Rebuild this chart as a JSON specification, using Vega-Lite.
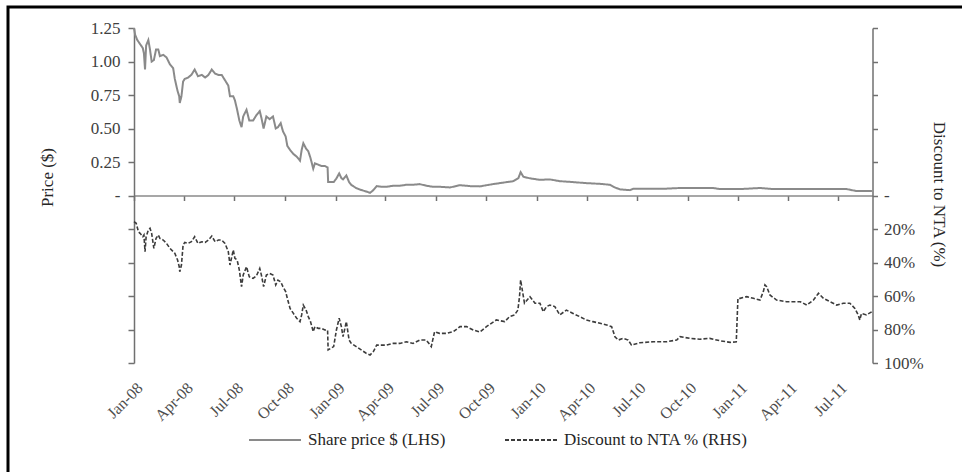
{
"$schema": "https://vega.github.io/schema/vega-lite/v6.json",
"width": 984,
"height": 495,
"autosize": {"type": "none"},
"padding": {"left": 8, "top": 7, "right": -30, "bottom": -30},
"background": "white",
"title": {"text": "Figure 8: LLG's ordinary unit price performance and discount to NTA performance", "anchor": "start", "frame": "group", "offset": 1, "dy": 5, "baseline": "alphabetic", "dx": -8, "font": "Liberation Serif", "fontSize": 19, "fontWeight": "bold", "color": "black"},
"config": {
  "view": {"stroke": "black", "strokeWidth": 3},
  "axis": {"grid": false, "labelFont": "Liberation Serif", "titleFont": "Liberation Serif", "labelColor": "#404040", "titleColor": "#262626", "titleFontWeight": "normal", "domainColor": "#707070", "tickColor": "#707070", "domainWidth": 1.5, "tickWidth": 1.5}
},
"datasets": {
"price": [
{"date":"2008-01-01","price":1.25},{"date":"2008-01-03","price":1.20},{"date":"2008-01-07","price":1.16},{"date":"2008-01-12","price":1.13},{"date":"2008-01-17","price":1.10},{"date":"2008-01-19","price":1.06},{"date":"2008-01-21","price":0.94},{"date":"2008-01-23","price":1.12},{"date":"2008-01-27","price":1.16},{"date":"2008-01-30","price":1.09},{"date":"2008-02-02","price":1.00},{"date":"2008-02-06","price":1.01},{"date":"2008-02-10","price":1.09},{"date":"2008-02-14","price":1.09},{"date":"2008-02-17","price":1.04},{"date":"2008-02-23","price":1.05},{"date":"2008-02-29","price":1.03},{"date":"2008-03-06","price":0.98},{"date":"2008-03-12","price":0.95},{"date":"2008-03-15","price":0.87},{"date":"2008-03-20","price":0.78},{"date":"2008-03-23","price":0.74},{"date":"2008-03-24","price":0.69},{"date":"2008-03-27","price":0.74},{"date":"2008-03-30","price":0.85},{"date":"2008-04-02","price":0.87},{"date":"2008-04-08","price":0.88},{"date":"2008-04-14","price":0.90},{"date":"2008-04-20","price":0.94},{"date":"2008-04-26","price":0.89},{"date":"2008-05-03","price":0.90},{"date":"2008-05-09","price":0.88},{"date":"2008-05-15","price":0.90},{"date":"2008-05-21","price":0.94},{"date":"2008-05-27","price":0.91},{"date":"2008-06-02","price":0.90},{"date":"2008-06-08","price":0.90},{"date":"2008-06-14","price":0.86},{"date":"2008-06-20","price":0.82},{"date":"2008-06-23","price":0.74},{"date":"2008-06-29","price":0.74},{"date":"2008-07-02","price":0.71},{"date":"2008-07-06","price":0.64},{"date":"2008-07-10","price":0.56},{"date":"2008-07-14","price":0.51},{"date":"2008-07-17","price":0.59},{"date":"2008-07-23","price":0.64},{"date":"2008-07-28","price":0.56},{"date":"2008-08-04","price":0.56},{"date":"2008-08-10","price":0.60},{"date":"2008-08-16","price":0.63},{"date":"2008-08-19","price":0.58},{"date":"2008-08-23","price":0.50},{"date":"2008-08-28","price":0.59},{"date":"2008-09-03","price":0.57},{"date":"2008-09-09","price":0.59},{"date":"2008-09-14","price":0.50},{"date":"2008-09-18","price":0.51},{"date":"2008-09-23","price":0.54},{"date":"2008-09-27","price":0.48},{"date":"2008-10-02","price":0.44},{"date":"2008-10-05","price":0.37},{"date":"2008-10-10","price":0.34},{"date":"2008-10-16","price":0.31},{"date":"2008-10-22","price":0.29},{"date":"2008-10-28","price":0.26},{"date":"2008-10-31","price":0.34},{"date":"2008-11-03","price":0.39},{"date":"2008-11-08","price":0.35},{"date":"2008-11-12","price":0.33},{"date":"2008-11-16","price":0.28},{"date":"2008-11-21","price":0.20},{"date":"2008-11-24","price":0.24},{"date":"2008-11-30","price":0.23},{"date":"2008-12-06","price":0.22},{"date":"2008-12-12","price":0.22},{"date":"2008-12-17","price":0.21},{"date":"2008-12-18","price":0.10},{"date":"2008-12-23","price":0.10},{"date":"2008-12-28","price":0.10},{"date":"2009-01-02","price":0.127},{"date":"2009-01-07","price":0.165},{"date":"2009-01-11","price":0.13},{"date":"2009-01-14","price":0.12},{"date":"2009-01-20","price":0.15},{"date":"2009-01-25","price":0.10},{"date":"2009-01-29","price":0.079},{"date":"2009-02-07","price":0.055},{"date":"2009-02-16","price":0.041},{"date":"2009-02-25","price":0.03},{"date":"2009-03-04","price":0.02},{"date":"2009-03-10","price":0.04},{"date":"2009-03-16","price":0.07},{"date":"2009-03-25","price":0.065},{"date":"2009-04-03","price":0.065},{"date":"2009-04-15","price":0.073},{"date":"2009-04-27","price":0.073},{"date":"2009-05-09","price":0.08},{"date":"2009-05-21","price":0.08},{"date":"2009-06-02","price":0.085},{"date":"2009-06-14","price":0.073},{"date":"2009-06-26","price":0.065},{"date":"2009-07-08","price":0.065},{"date":"2009-07-27","price":0.06},{"date":"2009-08-14","price":0.077},{"date":"2009-09-01","price":0.07},{"date":"2009-09-19","price":0.068},{"date":"2009-10-13","price":0.085},{"date":"2009-11-07","price":0.10},{"date":"2009-11-19","price":0.107},{"date":"2009-11-28","price":0.13},{"date":"2009-12-02","price":0.174},{"date":"2009-12-07","price":0.14},{"date":"2009-12-19","price":0.128},{"date":"2010-01-06","price":0.117},{"date":"2010-01-24","price":0.12},{"date":"2010-02-11","price":0.107},{"date":"2010-03-07","price":0.10},{"date":"2010-04-01","price":0.092},{"date":"2010-04-25","price":0.087},{"date":"2010-05-13","price":0.08},{"date":"2010-05-22","price":0.06},{"date":"2010-05-31","price":0.046},{"date":"2010-06-18","price":0.04},{"date":"2010-06-24","price":0.05},{"date":"2010-07-19","price":0.05},{"date":"2010-08-18","price":0.05},{"date":"2010-09-17","price":0.056},{"date":"2010-10-17","price":0.056},{"date":"2010-11-16","price":0.056},{"date":"2010-11-28","price":0.048},{"date":"2011-01-04","price":0.048},{"date":"2011-02-09","price":0.056},{"date":"2011-03-05","price":0.048},{"date":"2011-04-16","price":0.048},{"date":"2011-05-17","price":0.048},{"date":"2011-06-16","price":0.048},{"date":"2011-07-16","price":0.048},{"date":"2011-08-03","price":0.033},{"date":"2011-08-31","price":0.033}
],
"discount": [
{"date":"2008-01-01","discount":0.156},{"date":"2008-01-05","discount":0.166},{"date":"2008-01-09","discount":0.216},{"date":"2008-01-12","discount":0.226},{"date":"2008-01-17","discount":0.246},{"date":"2008-01-19","discount":0.236},{"date":"2008-01-21","discount":0.335},{"date":"2008-01-23","discount":0.246},{"date":"2008-01-27","discount":0.206},{"date":"2008-01-30","discount":0.196},{"date":"2008-02-02","discount":0.226},{"date":"2008-02-06","discount":0.315},{"date":"2008-02-10","discount":0.256},{"date":"2008-02-14","discount":0.236},{"date":"2008-02-17","discount":0.256},{"date":"2008-02-23","discount":0.266},{"date":"2008-02-29","discount":0.286},{"date":"2008-03-06","discount":0.315},{"date":"2008-03-12","discount":0.335},{"date":"2008-03-15","discount":0.345},{"date":"2008-03-20","discount":0.385},{"date":"2008-03-23","discount":0.425},{"date":"2008-03-24","discount":0.455},{"date":"2008-03-27","discount":0.415},{"date":"2008-03-30","discount":0.296},{"date":"2008-04-02","discount":0.28},{"date":"2008-04-08","discount":0.286},{"date":"2008-04-14","discount":0.276},{"date":"2008-04-20","discount":0.246},{"date":"2008-04-26","discount":0.286},{"date":"2008-05-03","discount":0.276},{"date":"2008-05-09","discount":0.28},{"date":"2008-05-15","discount":0.266},{"date":"2008-05-21","discount":0.242},{"date":"2008-05-27","discount":0.276},{"date":"2008-06-02","discount":0.266},{"date":"2008-06-08","discount":0.266},{"date":"2008-06-14","discount":0.286},{"date":"2008-06-20","discount":0.335},{"date":"2008-06-23","discount":0.415},{"date":"2008-06-29","discount":0.325},{"date":"2008-07-02","discount":0.375},{"date":"2008-07-06","discount":0.385},{"date":"2008-07-10","discount":0.445},{"date":"2008-07-14","discount":0.544},{"date":"2008-07-17","discount":0.475},{"date":"2008-07-23","discount":0.425},{"date":"2008-07-28","discount":0.485},{"date":"2008-08-04","discount":0.495},{"date":"2008-08-10","discount":0.48},{"date":"2008-08-16","discount":0.435},{"date":"2008-08-19","discount":0.475},{"date":"2008-08-23","discount":0.544},{"date":"2008-08-28","discount":0.475},{"date":"2008-09-03","discount":0.465},{"date":"2008-09-09","discount":0.475},{"date":"2008-09-14","discount":0.534},{"date":"2008-09-18","discount":0.505},{"date":"2008-09-23","discount":0.515},{"date":"2008-09-27","discount":0.544},{"date":"2008-10-02","discount":0.574},{"date":"2008-10-05","discount":0.614},{"date":"2008-10-10","discount":0.674},{"date":"2008-10-16","discount":0.704},{"date":"2008-10-22","discount":0.733},{"date":"2008-10-28","discount":0.753},{"date":"2008-10-31","discount":0.713},{"date":"2008-11-03","discount":0.654},{"date":"2008-11-08","discount":0.684},{"date":"2008-11-12","discount":0.723},{"date":"2008-11-16","discount":0.753},{"date":"2008-11-21","discount":0.813},{"date":"2008-11-24","discount":0.783},{"date":"2008-11-30","discount":0.793},{"date":"2008-12-06","discount":0.793},{"date":"2008-12-12","discount":0.803},{"date":"2008-12-17","discount":0.803},{"date":"2008-12-18","discount":0.922},{"date":"2008-12-23","discount":0.912},{"date":"2008-12-28","discount":0.902},{"date":"2009-01-02","discount":0.803},{"date":"2009-01-07","discount":0.733},{"date":"2009-01-11","discount":0.783},{"date":"2009-01-14","discount":0.843},{"date":"2009-01-20","discount":0.753},{"date":"2009-01-25","discount":0.863},{"date":"2009-01-29","discount":0.883},{"date":"2009-02-07","discount":0.902},{"date":"2009-02-16","discount":0.922},{"date":"2009-02-25","discount":0.942},{"date":"2009-03-04","discount":0.952},{"date":"2009-03-10","discount":0.932},{"date":"2009-03-16","discount":0.893},{"date":"2009-03-25","discount":0.893},{"date":"2009-04-03","discount":0.893},{"date":"2009-04-15","discount":0.883},{"date":"2009-04-27","discount":0.883},{"date":"2009-05-09","discount":0.873},{"date":"2009-05-21","discount":0.883},{"date":"2009-06-02","discount":0.863},{"date":"2009-06-14","discount":0.863},{"date":"2009-06-23","discount":0.902},{"date":"2009-06-29","discount":0.813},{"date":"2009-07-08","discount":0.823},{"date":"2009-07-21","discount":0.823},{"date":"2009-08-02","discount":0.813},{"date":"2009-08-14","discount":0.783},{"date":"2009-08-26","discount":0.783},{"date":"2009-09-07","discount":0.803},{"date":"2009-09-19","discount":0.815},{"date":"2009-10-01","discount":0.783},{"date":"2009-10-19","discount":0.743},{"date":"2009-11-03","discount":0.753},{"date":"2009-11-12","discount":0.723},{"date":"2009-11-21","discount":0.713},{"date":"2009-11-27","discount":0.684},{"date":"2009-11-30","discount":0.604},{"date":"2009-12-02","discount":0.504},{"date":"2009-12-05","discount":0.564},{"date":"2009-12-09","discount":0.643},{"date":"2009-12-19","discount":0.604},{"date":"2009-12-28","discount":0.643},{"date":"2010-01-06","discount":0.643},{"date":"2010-01-12","discount":0.694},{"date":"2010-01-18","discount":0.663},{"date":"2010-01-24","discount":0.654},{"date":"2010-02-02","discount":0.663},{"date":"2010-02-11","discount":0.713},{"date":"2010-02-23","discount":0.684},{"date":"2010-03-07","discount":0.704},{"date":"2010-03-19","discount":0.723},{"date":"2010-03-31","discount":0.743},{"date":"2010-04-12","discount":0.753},{"date":"2010-04-25","discount":0.763},{"date":"2010-05-07","discount":0.773},{"date":"2010-05-16","discount":0.783},{"date":"2010-05-22","discount":0.843},{"date":"2010-05-28","discount":0.863},{"date":"2010-06-06","discount":0.853},{"date":"2010-06-15","discount":0.863},{"date":"2010-06-21","discount":0.893},{"date":"2010-07-06","discount":0.879},{"date":"2010-07-31","discount":0.873},{"date":"2010-08-24","discount":0.873},{"date":"2010-09-11","discount":0.863},{"date":"2010-09-17","discount":0.843},{"date":"2010-10-05","discount":0.853},{"date":"2010-10-23","discount":0.858},{"date":"2010-11-10","discount":0.853},{"date":"2010-11-28","discount":0.867},{"date":"2010-12-17","discount":0.877},{"date":"2010-12-28","discount":0.873},{"date":"2010-12-31","discount":0.614},{"date":"2011-01-04","discount":0.614},{"date":"2011-01-16","discount":0.604},{"date":"2011-01-28","discount":0.614},{"date":"2011-02-09","discount":0.624},{"date":"2011-02-15","discount":0.574},{"date":"2011-02-18","discount":0.534},{"date":"2011-02-21","discount":0.544},{"date":"2011-02-27","discount":0.594},{"date":"2011-03-11","discount":0.624},{"date":"2011-03-29","discount":0.634},{"date":"2011-04-23","discount":0.634},{"date":"2011-05-05","discount":0.654},{"date":"2011-05-17","discount":0.624},{"date":"2011-05-26","discount":0.584},{"date":"2011-06-04","discount":0.614},{"date":"2011-06-16","discount":0.634},{"date":"2011-06-28","discount":0.654},{"date":"2011-07-10","discount":0.643},{"date":"2011-07-22","discount":0.643},{"date":"2011-07-31","discount":0.674},{"date":"2011-08-06","discount":0.713},{"date":"2011-08-09","discount":0.743},{"date":"2011-08-12","discount":0.704},{"date":"2011-08-21","discount":0.713},{"date":"2011-08-31","discount":0.694}
]
},
"layer": [
{
  "data": {"name": "price"},
  "mark": {"type": "line", "strokeWidth": 2},
  "encoding": {
    "x": {"field": "date", "type": "temporal",
      "scale": {"type": "utc", "domain": [{"year": 2008, "month": 1, "date": 1, "utc": true}, {"year": 2011, "month": 9, "date": 1, "utc": true}], "range": [126, 864.5]},
      "axis": {"orient": "bottom", "offset": -306.5, "title": null,
        "values": [{"year":2008,"month":1,"date":1,"utc":true},{"year":2008,"month":4,"date":1,"utc":true},{"year":2008,"month":7,"date":1,"utc":true},{"year":2008,"month":10,"date":1,"utc":true},{"year":2009,"month":1,"date":1,"utc":true},{"year":2009,"month":4,"date":1,"utc":true},{"year":2009,"month":7,"date":1,"utc":true},{"year":2009,"month":10,"date":1,"utc":true},{"year":2010,"month":1,"date":1,"utc":true},{"year":2010,"month":4,"date":1,"utc":true},{"year":2010,"month":7,"date":1,"utc":true},{"year":2010,"month":10,"date":1,"utc":true},{"year":2011,"month":1,"date":1,"utc":true},{"year":2011,"month":4,"date":1,"utc":true},{"year":2011,"month":7,"date":1,"utc":true}],
        "labelExpr": "utcFormat(datum.value, '%b-%y')",
        "labelAngle": -45, "labelFontSize": 16, "labelColor": "#4d4d4d", "labelPadding": 179, "tickSize": 5,
        "labelOverlap": false, "labelFlush": false, "labelBound": false, "domainColor": "#8a8a8a"}},
    "y": {"field": "price", "type": "quantitative",
      "scale": {"domain": [-1.25, 1.25], "range": [356, 21], "nice": false, "zero": false},
      "axis": {"orient": "left", "offset": -126, "title": "Price ($)",
        "values": [-1.25, -1, -0.75, -0.5, -0.25, 0, 0.25, 0.5, 0.75, 1, 1.25],
        "labelExpr": "datum.value > 0.001 ? format(datum.value, '.2f') : (datum.value > -0.001 ? '-' : '')",
        "labelFontSize": 17, "labelPadding": 8, "tickSize": 6,
        "titleFontSize": 17, "titleAngle": -90, "titleAlign": "center", "titleBaseline": "middle", "titleX": -86.5, "titleY": 170}},
    "color": {"datum": "Share price $ (LHS)",
      "scale": {"domain": ["Share price $ (LHS)", "Discount to NTA % (RHS)"], "range": ["#8a8a8a", "#3c3c3c"]},
      "legend": {"orient": "none", "legendX": 240, "legendY": 406, "direction": "horizontal", "title": null, "symbolType": "stroke", "symbolSize": 2704, "symbolStrokeWidth": 2, "labelFont": "Liberation Serif", "labelFontSize": 17, "labelColor": "#262626", "columnPadding": 55, "labelOffset": 6, "labelLimit": 300}},
    "strokeDash": {"datum": "Share price $ (LHS)",
      "scale": {"domain": ["Share price $ (LHS)", "Discount to NTA % (RHS)"], "range": [[1, 0], [4, 2]]},
      "legend": {"orient": "none", "legendX": 240, "legendY": 406, "direction": "horizontal", "title": null, "symbolType": "stroke", "symbolSize": 2704, "symbolStrokeWidth": 2, "labelFont": "Liberation Serif", "labelFontSize": 17, "labelColor": "#262626", "columnPadding": 55, "labelOffset": 6, "labelLimit": 300}}
  }
},
{
  "data": {"name": "discount"},
  "mark": {"type": "line", "strokeWidth": 1.6},
  "encoding": {
    "x": {"field": "date", "type": "temporal"},
    "y": {"field": "discount", "type": "quantitative",
      "scale": {"domain": [-1, 1], "range": [21, 356], "nice": false, "zero": false},
      "axis": {"orient": "right", "offset": -119.5, "title": "Discount to NTA (%)",
        "values": [-1, -0.8, -0.6, -0.4, -0.2, 0, 0.2, 0.4, 0.6, 0.8, 1],
        "labelExpr": "datum.value > 0.001 ? format(datum.value, '.0%') : (datum.value > -0.001 ? '-' : '')",
        "labelFontSize": 17, "labelPadding": 6, "tickSize": 5,
        "titleFontSize": 17, "titleAngle": 90, "titleAlign": "center", "titleBaseline": "middle", "titleX": 66, "titleY": 187}},
    "color": {"datum": "Discount to NTA % (RHS)"},
    "strokeDash": {"datum": "Discount to NTA % (RHS)"}
  }
}
],
"resolve": {"scale": {"y": "independent"}}
}
